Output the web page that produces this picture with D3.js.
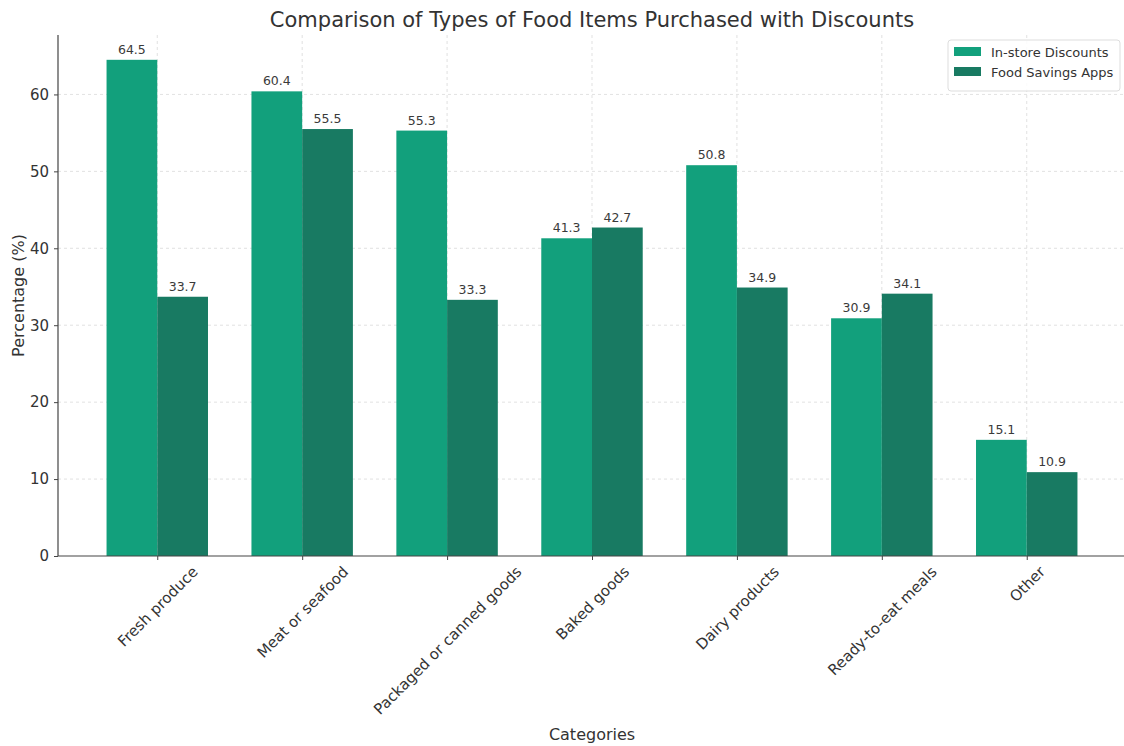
<!DOCTYPE html>
<html>
<head>
<meta charset="utf-8">
<script src="https://cdn.jsdelivr.net/npm/d3@7"></script>
<style>
  body { margin: 0; background: #fff; }
  svg, svg text { font-family: "DejaVu Sans", sans-serif; }
  .grid line { stroke: #d9d9d9; stroke-dasharray: 3,3; stroke-width: 0.8; }
  .axis path, .axis line { stroke: #444; }
  .axis text { fill: #333; font-size: 15px; font-family: "DejaVu Sans", sans-serif; }
</style>
</head>
<body>
<svg id="chart" width="1124" height="746"></svg>
<script>
var categories = ["Fresh produce", "Meat or seafood", "Packaged or canned goods", "Baked goods", "Dairy products", "Ready-to-eat meals", "Other"];
var inStore = [64.5, 60.4, 55.3, 41.3, 50.8, 30.9, 15.1];
var savingsApps = [33.7, 55.5, 33.3, 42.7, 34.9, 34.1, 10.9];
var seriesNames = ["In-store Discounts", "Food Savings Apps"];
var yTicks = [0, 10, 20, 30, 40, 50, 60];

var colors = ["#12a07c", "#187a62"];
var svg = d3.select("#chart");

var plotL = 58, plotR = 1126, plotT = 35, plotB = 556;
var barW = 0.35;

// continuous x like matplotlib, index positions with 5% margin
var xMin = -barW, xMax = categories.length - 1 + barW;
var pad = (xMax - xMin) * 0.05;
var x = d3.scaleLinear().domain([xMin - pad, xMax + pad]).range([plotL, plotR]);
var yMax = d3.max(inStore.concat(savingsApps)) * 1.05;
var y = d3.scaleLinear().domain([0, yMax]).range([plotB, plotT]);

// grid
var grid = svg.append("g").attr("class", "grid");
grid.selectAll("line.h").data(yTicks.filter(function(d){ return d > 0; })).enter().append("line")
   .attr("x1", plotL).attr("x2", plotR)
   .attr("y1", function(d){ return y(d); }).attr("y2", function(d){ return y(d); });
grid.selectAll("line.v").data(categories).enter().append("line")
   .attr("x1", function(d, i){ return x(i); }).attr("x2", function(d, i){ return x(i); })
   .attr("y1", plotT).attr("y2", plotB);

// bars
var series = [inStore, savingsApps];
series.forEach(function(vals, s){
   var off = s == 0 ? -barW : 0;
   var g = svg.append("g");
   g.selectAll("rect").data(vals).enter().append("rect")
      .attr("x", function(d, i){ return x(i + off); })
      .attr("width", x(barW) - x(0))
      .attr("y", function(d){ return y(d); })
      .attr("height", function(d){ return y(0) - y(d); })
      .attr("fill", colors[s]);
   g.selectAll("text").data(vals).enter().append("text")
      .attr("x", function(d, i){ return x(i + off + barW / 2); })
      .attr("y", function(d){ return y(d) - 6; })
      .attr("text-anchor", "middle")
      .attr("font-size", 12.5)
      .attr("fill", "#3a3a3a")
      .text(function(d){ return d.toFixed(1); });
});

// axes
var yAxis = d3.axisLeft(y).tickValues(yTicks).tickSize(4).tickPadding(5);
var yg = svg.append("g").attr("class", "axis").attr("transform", "translate(" + plotL + ",0)").call(yAxis);
yg.attr("font-family", null).attr("font-size", null);
yg.select(".domain").attr("d", "M0," + plotB + "V" + plotT);

var xAxis = d3.axisBottom(x).tickValues(d3.range(categories.length))
   .tickFormat(function(i){ return categories[i]; }).tickSize(4).tickSizeOuter(0);
var xg = svg.append("g").attr("class", "axis").attr("transform", "translate(0," + plotB + ")").call(xAxis);
xg.attr("font-family", null).attr("font-size", null);
// rotated 45 deg, centred on the tick (matplotlib ha=center)
xg.selectAll(".tick text").each(function(){
   var t = d3.select(this);
   var w = this.getComputedTextLength();
   var h = 17;
   var cy = 7 + (w + h) * Math.SQRT1_2 / 2;
   t.attr("text-anchor", "middle").attr("dy", "0.35em").attr("y", 0)
    .attr("transform", "translate(0," + cy + ") rotate(-45)");
});
xg.select(".domain").attr("d", "M" + plotL + ",0H" + plotR);
svg.selectAll(".axis .domain").attr("stroke", "#444").attr("stroke-width", 1.2);

// titles
svg.append("text").attr("x", 592).attr("y", 27).attr("text-anchor", "middle")
   .attr("font-size", 21).attr("fill", "#333")
   .text("Comparison of Types of Food Items Purchased with Discounts");
svg.append("text").attr("x", 592).attr("y", 740).attr("text-anchor", "middle")
   .attr("font-size", 16).attr("fill", "#333").text("Categories");
svg.append("text").attr("transform", "translate(24," + ((plotT + plotB) / 2) + ") rotate(-90)")
   .attr("text-anchor", "middle").attr("font-size", 16).attr("fill", "#333").text("Percentage (%)");

// legend
var leg = svg.append("g").attr("transform", "translate(948,40)");
leg.append("rect").attr("width", 172).attr("height", 51).attr("rx", 3)
   .attr("fill", "#fff").attr("fill-opacity", 0.85).attr("stroke", "#ddd");
seriesNames.forEach(function(n, i){
   leg.append("rect").attr("x", 6).attr("y", 7 + i * 20).attr("width", 27).attr("height", 9).attr("fill", colors[i]);
   leg.append("text").attr("x", 43).attr("y", 16.5 + i * 20).attr("font-size", 13).attr("fill", "#333").text(n);
});
</script>
</body>
</html>
